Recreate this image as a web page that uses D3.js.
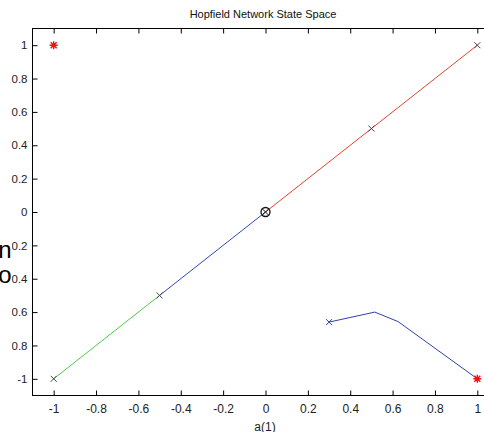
<!DOCTYPE html>
<html>
<head>
<meta charset="utf-8">
<script src="https://cdn.jsdelivr.net/npm/d3@7"></script>
<style>
  body { margin: 0; background: #fff; }
  svg { display: block; font-family: "Liberation Sans", Arial, sans-serif; }
</style>
</head>
<body>
<div id="chart"></div>
<script>
// values
var xTicks = [-1, -0.8, -0.6, -0.4, -0.2, 0, 0.2, 0.4, 0.6, 0.8, 1];
var yTicks = [-1, -0.8, -0.6, -0.4, -0.2, 0, 0.2, 0.4, 0.6, 0.8, 1];
var redPath = [[0, 0], [0.5, 0.5], [1, 1]];
var bluePath = [[0, 0], [-0.5, -0.5]];
var greenPath = [[-0.5, -0.5], [-1, -1]];
var trajectory = [[0.3, -0.66], [0.516, -0.6], [0.626, -0.657], [1, -1]];
var crossPoints = [[0.5, 0.5], [1, 1], [-0.5, -0.5], [-1, -1]];
var targets = [[-1, 1], [1, -1]];
var origin = [[0, 0]];

var width = 484, height = 432;

var xScale = d3.scaleLinear().domain([-1.1, 1.1]).range([32.5, 498.5]),
    yScale = d3.scaleLinear().domain([-1.1, 1.1]).range([395.5, 28.5]);

var svg = d3.select("#chart").append("svg")
    .attr("width", width)
    .attr("height", height);

var fmt = function(d) { return String(+d.toFixed(1)); };

// box
svg.append("rect")
    .attr("x", xScale(-1.1)).attr("y", yScale(1.1))
    .attr("width", xScale(1.1) - xScale(-1.1))
    .attr("height", yScale(-1.1) - yScale(1.1))
    .attr("fill", "none").attr("stroke", "#000").attr("stroke-width", 1);

// axes with inward ticks (matlab style)
var xAxis = d3.axisBottom(xScale).tickValues(xTicks).tickSize(-5).tickPadding(9).tickFormat(fmt);
var yAxis = d3.axisLeft(yScale).tickValues(yTicks).tickSize(-5).tickPadding(5).tickFormat(fmt);

var gx = svg.append("g").attr("transform", "translate(0," + yScale(-1.1) + ")").call(xAxis);
var gy = svg.append("g").attr("transform", "translate(" + xScale(-1.1) + ",0)").call(yAxis);
svg.append("g").attr("transform", "translate(0," + yScale(1.1) + ")")
    .call(d3.axisTop(xScale).tickValues(xTicks).tickSize(-5).tickFormat(""));
svg.append("g").attr("transform", "translate(" + xScale(1.1) + ",0)")
    .call(d3.axisRight(yScale).tickValues(yTicks).tickSize(-5).tickFormat(""));

svg.selectAll(".domain").remove();
svg.selectAll(".tick line").attr("stroke", "#000");
svg.selectAll(".tick text").attr("fill", "#222").style("font-size", "12px");
gy.selectAll(".tick text").style("font-size", "11.5px");
gx.selectAll(".tick text").attr("dy", "0.71em");

// lines
var line = d3.line()
    .x(function(d) { return xScale(d[0]); })
    .y(function(d) { return yScale(d[1]); });

svg.append("path").datum(redPath).attr("d", line)
    .attr("fill", "none").attr("stroke", "#e0452f").attr("stroke-width", 1);
svg.append("path").datum(bluePath).attr("d", line)
    .attr("fill", "none").attr("stroke", "#3048b8").attr("stroke-width", 1);
svg.append("path").datum(greenPath).attr("d", line)
    .attr("fill", "none").attr("stroke", "#4ccc48").attr("stroke-width", 1);
svg.append("path").datum(trajectory).attr("d", line)
    .attr("fill", "none").attr("stroke", "#3040b0").attr("stroke-width", 1);

// x markers
function cross(sel, pts, color, r) {
    sel.selectAll(null).data(pts).enter().append("path")
        .attr("d", function(d) {
            var x = xScale(d[0]), y = yScale(d[1]);
            return "M" + (x - r) + "," + (y - r) + "L" + (x + r) + "," + (y + r) +
                   "M" + (x - r) + "," + (y + r) + "L" + (x + r) + "," + (y - r);
        })
        .attr("stroke", color).attr("stroke-width", 1).attr("fill", "none");
}
cross(svg, crossPoints, "#444", 3);
cross(svg, [trajectory[0]], "#3040b0", 3);

// origin: circle with x
svg.selectAll(".origin").data(origin).enter().append("circle")
    .attr("class", "origin")
    .attr("cx", function(d) { return xScale(d[0]); })
    .attr("cy", function(d) { return yScale(d[1]); })
    .attr("r", 4.5).attr("fill", "none").attr("stroke", "#111").attr("stroke-width", 1.3);
cross(svg, origin, "#111", 3.2);

// red star targets
svg.selectAll(".target").data(targets).enter().append("path")
    .attr("class", "target")
    .attr("d", function(d) {
        var x = xScale(d[0]), y = yScale(d[1]), r = 4;
        return "M" + (x - r) + "," + y + "L" + (x + r) + "," + y +
               "M" + x + "," + (y - r) + "L" + x + "," + (y + r) +
               "M" + (x - 3) + "," + (y - 3) + "L" + (x + 3) + "," + (y + 3) +
               "M" + (x - 3) + "," + (y + 3) + "L" + (x + 3) + "," + (y - 3);
    })
    .attr("stroke", "#ee1111").attr("stroke-width", 1.4).attr("fill", "none");

// title and label
svg.append("text").attr("x", 263).attr("y", 18).attr("text-anchor", "middle")
    .style("font-size", "11px").attr("fill", "#111").text("Hopfield Network State Space");
svg.append("text").attr("x", 265).attr("y", 431).attr("text-anchor", "middle")
    .style("font-size", "12px").attr("fill", "#222").text("a(1)");

// overlapping text fragment at left edge
svg.append("rect").attr("x", 0).attr("y", 230).attr("width", 12).attr("height", 140).attr("fill", "#fff");
svg.append("text").attr("x", 11.5).attr("y", 258).attr("text-anchor", "end")
    .style("font-size", "24px").attr("fill", "#000").text("n");
svg.append("text").attr("x", 11.5).attr("y", 283).attr("text-anchor", "end")
    .style("font-size", "24px").attr("fill", "#000").text("o");
</script>
</body>
</html>
